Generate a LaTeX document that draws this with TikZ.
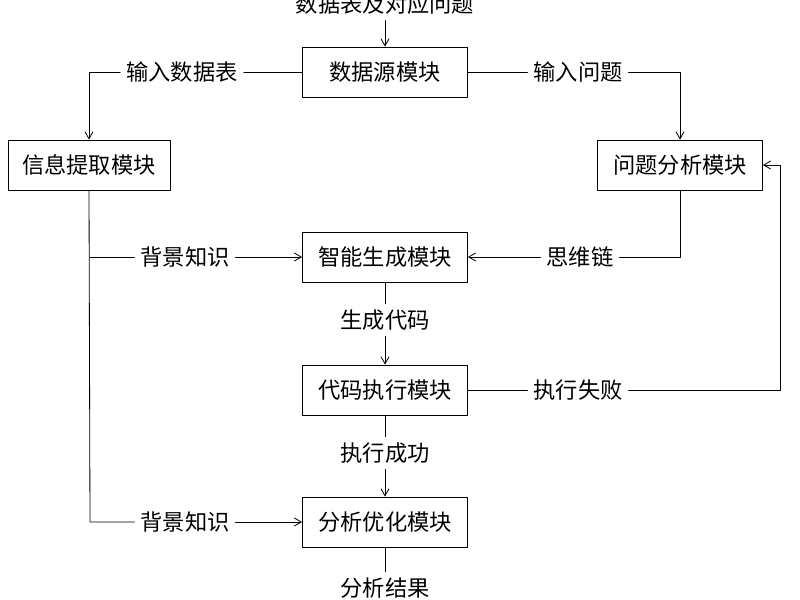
\documentclass[tikz,border=0pt]{standalone}
\usepackage{fontspec}
\setmainfont{Noto Sans CJK SC}
\usetikzlibrary{arrows.meta,positioning}
\tikzset{
  box/.style={draw,line width=0.8pt,minimum width=4.95cm,minimum height=1.5cm,inner sep=0pt,font=\fontsize{19}{22}\selectfont},
  lbl/.style={inner sep=5pt,font=\fontsize{19}{22}\selectfont},
  con/.style={line width=0.7pt},
  arr/.style={con,-{Straight Barb[length=6pt,width=7pt]}}
}
\begin{document}
\begin{tikzpicture}[line cap=round,line join=round,x=0.03cm,y=-0.03cm]
  \useasboundingbox (0,0) rectangle (800,600);
  % modules
  \node[box] (src) at (385,72) {数据源模块};
  \node[box,minimum width=4.86cm] (info) at (89,165) {信息提取模块};
  \node[box] (ques) at (680,165) {问题分析模块};
  \node[box] (gen) at (385,257) {智能生成模块};
  \node[box] (exec) at (385,390) {代码执行模块};
  \node[box] (opt) at (385,522) {分析优化模块};
  % labels
  \node[lbl] (in) at (385,4) {数据表及对应问题};
  \node[lbl] (intab) at (182,72) {输入数据表};
  \node[lbl] (inq) at (578,72) {输入问题};
  \node[lbl] (bg1) at (185,257) {背景知识};
  \node[lbl] (cot) at (580,257) {思维链};
  \node[lbl] (code) at (385,320) {生成代码};
  \node[lbl] (fail) at (578,390) {执行失败};
  \node[lbl] (ok) at (385,453) {执行成功};
  \node[lbl] (bg2) at (185,522) {背景知识};
  \node[lbl] (res) at (385,588) {分析结果};
  \coordinate (split1) at (90,257);
  \coordinate (split2) at (90,522);
  \coordinate (back) at (780,390);
  % connectors
  \draw[arr] (in) -- (src);
  \draw[con] (src) -- (intab);
  \draw[arr] (intab.west) -| (info.north);
  \draw[con] (src) -- (inq);
  \draw[arr] (inq.east) -| (ques.north);
  \draw[con] (info.south) -- (split2) -- (bg2);
  \draw[con] (split1) -- (bg1);
  \draw[arr] (bg1) -- (gen);
  \draw[arr] (bg2) -- (opt);
  \draw[con] (ques.south) |- (cot);
  \draw[arr] (cot) -- (gen);
  \draw[con] (gen) -- (code);
  \draw[arr] (code) -- (exec);
  \draw[con] (exec) -- (fail);
  \draw[arr] (fail) -- (back) |- (ques.east);
  \draw[con] (exec) -- (ok);
  \draw[arr] (ok) -- (opt);
  \draw[con] (opt) -- (res);
\end{tikzpicture}
\end{document}
